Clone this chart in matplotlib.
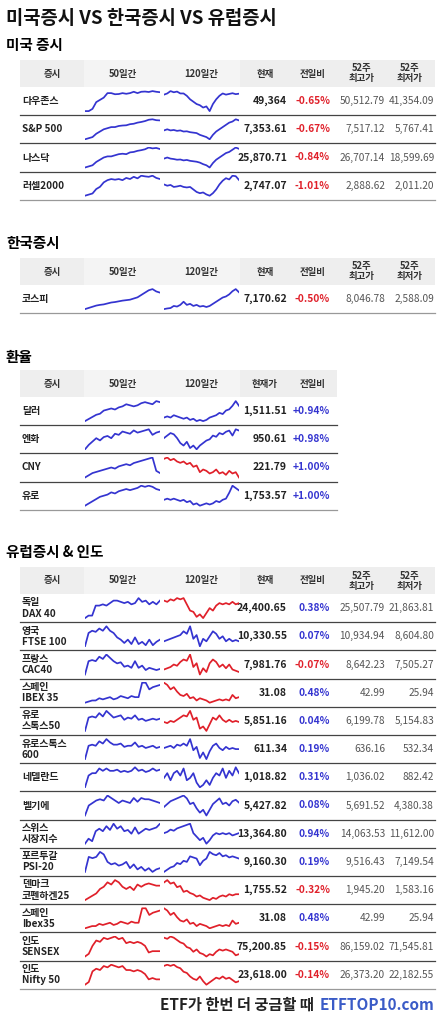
import matplotlib.pyplot as plt

plt.rcParams['font.family'] = ['Noto Sans CJK KR', 'DejaVu Sans']

BLUE = '#3434d0'
RED = '#e0202a'

# ---- data ----
us_names = ['다우존스', 'S&P 500', '나스닥', '러셀2000']
us_cur = ['49,364', '7,353.61', '25,870.71', '2,747.07']
us_chg = ['-0.65%', '-0.67%', '-0.84%', '-1.01%']
us_hi = ['50,512.79', '7,517.12', '26,707.14', '2,888.62']
us_lo = ['41,354.09', '5,767.41', '18,599.69', '2,011.20']
us_s50 = [
    [0, 0, 1, 4, 5, 6, 8, 8, 7.5, 7.6, 8, 7.7, 8, 8.6, 8, 8.6, 8.7, 8.5, 8.9, 8.6, 8.4],
    [0, 0.5, 1, 2.5, 3.5, 4.5, 5, 5.5, 5.5, 6, 6.2, 6.3, 6.8, 7, 7.5, 7.8, 8.2, 8.8, 9, 8.6, 8.5],
    [0, 0.5, 1, 2.5, 3.5, 4.5, 5, 5, 5.5, 6, 6.2, 6, 6.8, 7, 7.5, 7.8, 8.2, 9, 8.6, 8.8, 8.3],
    [0, 0.5, 1, 3, 4, 6, 7, 7.5, 7.2, 7.5, 7, 8, 7.5, 8.5, 7.8, 9, 8.7, 8.5, 9, 8, 7.5],
]
us_s120 = [
    [7, 7.5, 8.5, 8, 8.3, 7.5, 7.5, 6.5, 5, 4, 3, 2.5, 1.5, 2, 0, 3, 5, 6.5, 7.5, 7, 7.3, 7.6, 7.2, 7.4],
    [4, 4.5, 4, 4.2, 3.8, 4, 3.5, 3.6, 3.2, 3, 2.8, 2, 1.5, 1, 0, 2, 3.5, 4.5, 5.5, 6.5, 7.5, 8, 9, 8.5],
    [4, 4.5, 4, 3.8, 3.5, 3.6, 3.2, 3.4, 3, 2.8, 2.6, 2.2, 1.5, 1, 0, 2, 3.5, 4.5, 5.5, 6.5, 7, 8, 9, 8.4],
    [5, 4.5, 4.8, 4, 4.2, 4.5, 4, 3.8, 4, 3, 2, 1.5, 1.8, 1, 0.5, 1.5, 3, 5, 6.5, 7.5, 7, 8.5, 8.3, 6.8],
]

kr_names = ['코스피']
kr_cur = ['7,170.62']
kr_chg = ['-0.50%']
kr_hi = ['8,046.78']
kr_lo = ['2,588.09']
kr_s50 = [[0, 0.5, 1, 1.5, 1.8, 2, 2.4, 2.8, 3, 3.3, 3.6, 3.8, 4, 4.5, 5, 6, 7, 8, 8.5, 7.5, 7]]
kr_s120 = [[0, 0.3, 0.5, 1.5, 1.2, 2, 3.5, 2, 2.5, 1.5, 2, 1.2, 1.5, 1, 1.5, 2.5, 3.5, 4.5, 5.5, 6, 7, 8.5, 9.5, 8]]

fx_names = ['달러', '엔화', 'CNY', '유로']
fx_cur = ['1,511.51', '950.61', '221.79', '1,753.57']
fx_chg = ['+0.94%', '+0.98%', '+1.00%', '+1.00%']
fx_s50 = [
    [0, 1, 2, 3, 3.5, 5, 5.5, 6, 5.5, 6.5, 7, 8, 7.5, 7, 7.5, 8.5, 9, 8.5, 8, 9.5, 9],
    [0, 2, 3.5, 5, 4, 5.5, 6, 5, 7, 6.5, 8, 7.5, 7, 8.5, 7.5, 8, 8.5, 9, 6.5, 7.5, 8],
    [0, 1, 2, 2.5, 3, 3.5, 4, 4.5, 4, 5, 5.5, 6, 5.5, 6.5, 7, 7.5, 8, 8.5, 9, 3, 2],
    [0, 1, 2, 3, 4, 4.5, 5, 6, 5.5, 6.5, 7, 7.5, 7, 7.5, 8, 9, 8.5, 9, 8.5, 7.5, 7],
]
fx_s120 = [
    [2, 2.5, 2, 3, 2.5, 2, 1.5, 2, 1, 1.5, 0.5, 1, 0.5, 1, 2, 2.5, 3, 4, 3.5, 5, 5.5, 7, 9, 7],
    [5, 6, 7, 6.5, 5, 3, 2, 3.5, 1, 2, 0.5, 2, 3, 4, 4.5, 6, 5.5, 7, 6.5, 7.5, 8, 6, 8.5, 8],
    [8, 8.5, 7.5, 8, 7, 6.5, 7, 6, 6.5, 5, 5.5, 3, 4, 3.5, 2.5, 3, 4, 2.5, 3, 2, 3.5, 2.5, 3, 1],
    [3, 3.5, 3, 3.5, 3, 2.5, 3, 2, 2.5, 1, 1.5, 0.5, 1, 1.5, 1, 1.5, 2.5, 2, 3, 3.5, 6, 9, 8, 7],
]
fx_c50 = [BLUE, BLUE, BLUE, BLUE]
fx_c120 = [BLUE, BLUE, RED, BLUE]

eu_names = ['독일\nDAX 40', '영국\nFTSE 100', '프랑스\nCAC40', '스페인\nIBEX 35', '유로\n스톡스50',
            '유로스톡스\n600', '네델란드', '벨기에', '스위스\n시장지수', '포르투갈\nPSI-20',
            '덴마크\n코펜하겐25', '스페인\nIbex35', '인도\nSENSEX', '인도\nNifty 50']
eu_cur = ['24,400.65', '10,330.55', '7,981.76', '31.08', '5,851.16', '611.34', '1,018.82',
          '5,427.82', '13,364.80', '9,160.30', '1,755.52', '31.08', '75,200.85', '23,618.00']
eu_chg = ['0.38%', '0.07%', '-0.07%', '0.48%', '0.04%', '0.19%', '0.31%',
          '0.08%', '0.94%', '0.19%', '-0.32%', '0.48%', '-0.15%', '-0.14%']
eu_hi = ['25,507.79', '10,934.94', '8,642.23', '42.99', '6,199.78', '636.16', '1,036.02',
         '5,691.52', '14,063.53', '9,516.43', '1,945.20', '42.99', '86,159.02', '26,373.20']
eu_lo = ['21,863.81', '8,604.80', '7,505.27', '25.94', '5,154.83', '532.34', '882.42',
         '4,380.38', '11,612.00', '7,149.54', '1,583.16', '25.94', '71,545.81', '22,182.55']
eu_s50 = [
    [0, 1, 1, 5, 5, 5.5, 5, 6, 7, 7, 6.5, 6, 6.5, 5.5, 6, 8, 6.5, 7, 5.5, 6.5, 5.5, 7],
    [0, 6, 7, 6.5, 8, 7, 9, 7, 6, 4, 3, 1.5, 3, 1, 4, 1, 2, 0.5, 3, 0.5, 2, 3],
    [0, 6, 6.5, 6, 8, 7, 9, 7.5, 6, 5, 5.5, 3.5, 4, 3, 6, 3, 4, 2, 3, 2.5, 2, 2.5],
    [0, 0.5, 1, 1, 2, 1.5, 2, 2.5, 1.5, 2, 3, 2.5, 2, 3, 2.5, 2.5, 9, 9, 6, 7, 7.5, 8],
    [0, 6, 6.5, 6, 8, 6.5, 9, 7.5, 6, 6.5, 7, 5, 6, 5.5, 7, 5, 5.5, 4.5, 5, 5.5, 5, 5.5],
    [0, 6, 6.5, 6, 8, 7, 9, 7.5, 6.5, 6.5, 7, 5.5, 6, 6, 7.5, 5.5, 6, 5, 5.5, 6, 5, 5.5],
    [0, 5, 6, 6, 8, 7, 8, 7, 7, 7.5, 6.5, 7, 6.5, 7, 8.5, 7, 7.5, 6.5, 7, 8, 7, 7.5],
    [0, 4, 5, 6, 6.5, 6, 8, 7, 6, 5, 6, 5.5, 5, 7, 5.5, 7, 6.5, 6.5, 6, 5.5, 5],
    [0, 2, 1, 5, 6, 5, 7, 5.5, 8, 6, 7, 5, 5.5, 4, 6.5, 4, 5, 6, 5.5, 6, 6.5, 8],
    [0, 6, 5.5, 6, 8, 7, 4, 3, 3.5, 2.5, 3, 4, 1.5, 3, 1, 2, 0.5, 1.5, 0, 1, 1.5],
    [0, 1, 2, 3, 5, 6, 8, 7, 9, 8, 6, 5, 6, 4.5, 7, 6, 7, 7.5, 7, 6.5, 6.5],
    [0, 0.5, 1, 1, 2, 1.5, 2, 2.5, 1.5, 2, 3, 2.5, 2, 3, 2.5, 2.5, 9, 9, 6, 7, 7.5, 8],
    [0, 1, 4, 6, 5.5, 7, 6.5, 7, 7.5, 6.5, 7, 5, 5.5, 5, 5.5, 5, 4, 1.5, 2, 2, 2],
    [0, 1, 5, 6, 5.5, 7, 6.5, 7.5, 7, 6.5, 7, 5.5, 5.5, 5, 5.5, 5, 4, 2, 2.5, 2, 2],
]
eu_s120 = [
    [7, 6.5, 7.5, 7, 8, 7.5, 8, 5.5, 3, 2.5, 0.5, 1.5, 0, 2, 4, 3, 5, 6, 5.5, 6, 5.5, 6.5, 5.5, 6],
    [3, 3.5, 4, 4.5, 5, 5.5, 7, 6, 9, 4, 5.5, 1, 4, 3, 5, 7, 6, 4, 5, 3, 4, 3, 3.5, 3],
    [3, 3.5, 4, 5, 4.5, 6, 7, 6.5, 9, 4, 5.5, 1, 3.5, 2, 5.5, 7, 6, 4, 5, 3.5, 5, 3, 2.5, 2],
    [9, 8, 6, 7, 5, 3.5, 3, 4, 2, 2.5, 1, 2, 1.5, 1, 0, 0.5, 1, 1.5, 1, 1.5, 1, 3.5, 2, 2.5],
    [4, 3.5, 4.5, 4, 5, 6, 7, 6.5, 9, 5, 6, 1, 2, 0, 3, 6, 5, 7, 5, 4, 5, 4, 4.5, 4],
    [5, 5.5, 6, 5, 6.5, 6, 7, 6, 9, 4, 5.5, 0.5, 3, 0, 3.5, 6, 7, 5, 4, 5.5, 4.5, 5, 4.5, 4.5],
    [4, 6, 3, 6, 7, 5, 8, 3, 4, 6, 2, 0, 1, 3, 1, 4, 6, 5, 8, 4, 7, 5, 8.5, 6],
    [4, 5, 6, 6.5, 7, 7.5, 8, 7, 5, 5.5, 3.5, 2, 3, 1, 3, 5, 6, 7, 5, 5.5, 4.5, 6, 6.5, 5.5],
    [5, 5.5, 6.5, 6, 7, 7.5, 8, 8.5, 9, 5, 3.5, 2, 3, 0.5, 2, 4, 5, 4.5, 5, 4.5, 5, 4, 4.5, 5],
    [0, 1, 2, 2.5, 4, 3.5, 5, 4.5, 7, 6.5, 6, 3, 5, 6, 9, 8, 7.5, 8.5, 7, 7.5, 6.5, 7, 6.5, 6],
    [8, 9, 7.5, 8, 6, 6.5, 4, 4.5, 3.5, 3, 2, 2.5, 1.5, 1, 0.5, 1.5, 1, 2, 2.5, 2, 3, 2.5, 3, 3],
    [9, 8, 6, 7, 5, 3.5, 3, 4, 2, 2.5, 1, 2, 1.5, 1, 0, 0.5, 1, 1.5, 1, 1.5, 1, 3.5, 2, 2.5],
    [9, 8.5, 9.5, 9, 8, 7, 6.5, 5, 4.5, 3, 4, 2.5, 2, 1, 2, 1.5, 3, 4, 3.5, 4, 3.5, 3, 1.5, 2],
    [8.5, 9, 8.5, 9, 8, 7.5, 6, 5.5, 4, 3, 2.5, 4, 2, 0.5, 1.5, 2.5, 3.5, 3, 4, 3, 3.5, 2.5, 1.5, 2],
]
eu_c50 = [BLUE] * 10 + [RED] * 4
eu_c120 = [RED, BLUE, RED, RED, RED, BLUE, BLUE, BLUE, BLUE, BLUE, RED, RED, RED, RED]

# ---- layout ----
W, H = 446, 1024
fig = plt.figure(figsize=(W / 100, H / 100), dpi=100)
ax = fig.add_axes([0, 0, 1, 1])
ax.set_xlim(0, W)
ax.set_ylim(H, 0)
ax.axis('off')

L, R = 20, 435
ROW = 28.2


def spark(x0, x1, yc, vals, color):
    sa = fig.add_axes([x0 / W, 1 - (yc + 11) / H, (x1 - x0) / W, 22 / H])
    sa.plot(range(len(vals)), vals, color=color, lw=1.25)
    sa.set_xlim(0, len(vals) - 1)
    lo, hi = min(vals), max(vals)
    pad = (hi - lo) * 0.05
    sa.set_ylim(lo - pad, hi + pad)
    sa.axis('off')


def header(y0, right, full=True):
    y1 = y0 + 27
    ax.fill_between([L, 84], y0, y1, color='#eeeeee', lw=0)
    ax.fill_between([84, 240], y0, y1, color='#f4f4f4', lw=0)
    ax.fill_between([240, right], y0, y1, color='#eeeeee', lw=0)
    ym = (y0 + y1) / 2
    kw = dict(ha='center', va='center', fontsize=6.8, fontweight='bold', color='#333333')
    ax.text(52, ym, '증시', **kw)
    ax.text(123, ym, '50일간', **kw)
    ax.text(201, ym, '120일간', **kw)
    ax.text(265, ym, '현재' if full else '현재가', **kw)
    ax.text(313, ym, '전일비', **kw)
    if full:
        ax.text(362, ym, '52주\n최고가', linespacing=1.0, **kw)
        ax.text(410, ym, '52주\n최저가', linespacing=1.0, **kw)
    return y1


def table(y0, names, cur, chg, s50, s120, c50, c120, hi=None, lo=None, right=R):
    top = header(y0, right, hi is not None)
    for i in range(len(names)):
        yc = top + ROW * (i + 0.5)
        ax.text(L + 2, yc, names[i], ha='left', va='center', fontsize=7.2,
                fontweight='bold', color='#222222', linespacing=1.15)
        spark(85, 160, yc, s50[i], c50[i])
        spark(164, 239, yc, s120[i], c120[i])
        ax.text(287, yc, cur[i], ha='right', va='center', fontsize=7.5,
                fontweight='bold', color='#222222')
        col = RED if chg[i].startswith('-') else BLUE
        ax.text(330, yc, chg[i], ha='right', va='center', fontsize=7.3,
                fontweight='bold', color=col)
        if hi is not None:
            ax.text(385, yc, hi[i], ha='right', va='center', fontsize=7.3, color='#555555')
            ax.text(434, yc, lo[i], ha='right', va='center', fontsize=7.3, color='#555555')
        yb = top + ROW * (i + 1)
        ax.plot([L, right], [yb, yb], color='#444444' if i < len(names) - 1 else '#999999', lw=0.9)


ax.text(6, 18, '미국증시 VS 한국증시 VS 유럽증시', ha='left', va='center',
        fontsize=13.5, fontweight='bold', color='#111111')

ax.text(6, 45, '미국 증시', ha='left', va='center', fontsize=10.5, fontweight='bold')
table(60, us_names, us_cur, us_chg, us_s50, us_s120, [BLUE] * 4, [BLUE] * 4, us_hi, us_lo)

ax.text(6, 243, '한국증시', ha='left', va='center', fontsize=10.5, fontweight='bold')
table(258, kr_names, kr_cur, kr_chg, kr_s50, kr_s120, [BLUE], [BLUE], kr_hi, kr_lo)

ax.text(6, 357, '환율', ha='left', va='center', fontsize=10.5, fontweight='bold')
table(370, fx_names, fx_cur, fx_chg, fx_s50, fx_s120, fx_c50, fx_c120, right=337)

ax.text(6, 552, '유럽증시 & 인도', ha='left', va='center', fontsize=10.5, fontweight='bold')
table(567, eu_names, eu_cur, eu_chg, eu_s50, eu_s120, eu_c50, eu_c120, eu_hi, eu_lo)

ax.text(434, 1005, 'ETFTOP10.com', ha='right', va='center', fontsize=11,
        fontweight='bold', color='#3a5bc7')
ax.text(314, 1005, 'ETF가 한번 더 궁금할 때', ha='right', va='center', fontsize=11,
        fontweight='bold', color='#222222')

fig.savefig('out.png', dpi=100)
